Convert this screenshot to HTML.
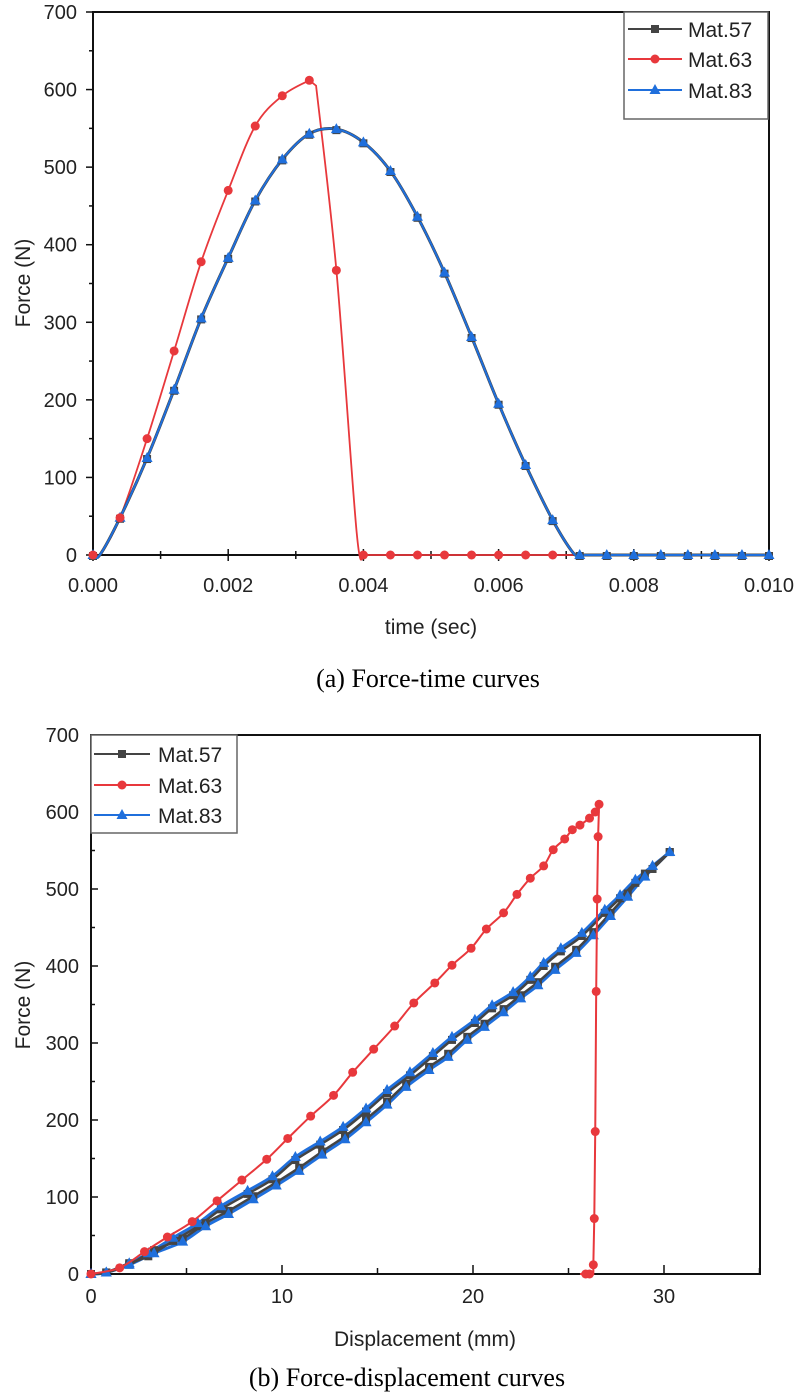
<!DOCTYPE html>
<html><head><meta charset="utf-8"><style>
html,body{margin:0;padding:0;background:#fff;}
svg{display:block;}
text{font-family:"Liberation Sans",Arial,sans-serif;fill:#222;}
.cap{font-family:"Liberation Serif","Times New Roman",serif;fill:#000;}
</style></head><body>
<svg id="s" width="800" height="1397" xmlns="http://www.w3.org/2000/svg"></svg>
<script>
const S=document.getElementById('s');let h='';
function cr(p){
 if(p.length<3){return 'M'+p.map(q=>q.join(',')).join('L');}
 let d='M'+p[0][0]+','+p[0][1];
 for(let i=0;i<p.length-1;i++){const p0=p[i-1]||p[i],p1=p[i],p2=p[i+1],p3=p[i+2]||p2;
  const c1=[p1[0]+(p2[0]-p0[0])/6,p1[1]+(p2[1]-p0[1])/6],c2=[p2[0]-(p3[0]-p1[0])/6,p2[1]-(p3[1]-p1[1])/6];
  d+=`C${c1[0].toFixed(1)},${c1[1].toFixed(1)} ${c2[0].toFixed(1)},${c2[1].toFixed(1)} ${p2[0].toFixed(1)},${p2[1].toFixed(1)}`;}
 return d;}
function mk(t,x,y,c){
 if(t=='s')return `<rect x="${x-4}" y="${y-4}" width="8" height="8" fill="${c}"/>`;
 if(t=='c')return `<circle cx="${x}" cy="${y}" r="4.5" fill="${c}"/>`;
 return `<polygon points="${x},${y-6} ${x+5.5},${y+4} ${x-5.5},${y+4}" fill="${c}"/>`;}
const BK='#444',RD='#e8383c',BL='#1f6fdc';
{const L=93,R=769,T=12,B=555;const X=t=>L+(R-L)*t/0.01,Y=f=>B-(B-T)*f/700;
 h+=`<rect x="${L}" y="${T}" width="${R-L}" height="${B-T}" fill="none" stroke="#111" stroke-width="2"/>`;
 for(let i=0;i<=14;i++){const y=Y(i*50),mj=i%2==0;h+=`<line x1="${L-(mj?7:4)}" x2="${L}" y1="${y}" y2="${y}" stroke="#111" stroke-width="1.5"/>`;
  if(mj)h+=`<text x="${L-16}" y="${y+7}" font-size="20" text-anchor="end">${i*50}</text>`;}
 for(let i=0;i<=10;i++){const x=X(i*0.001),mj=i%2==0;h+=`<line x1="${x}" x2="${x}" y1="${B-(mj?6:4)}" y2="${B+(mj?6:4)}" stroke="#111" stroke-width="1.5"/>`;
  if(mj)h+=`<text x="${x}" y="${592}" font-size="20" text-anchor="middle">${(i*0.001).toFixed(3)}</text>`;}
 h+=`<text x="431" y="634" font-size="21" text-anchor="middle">time (sec)</text>`;
 h+=`<text transform="translate(30,283) rotate(-90)" font-size="21" text-anchor="middle">Force (N)</text>`;
 const b=[[0,0],[0.0001,0],[0.0004,48],[0.0008,125],[0.0012,213],[0.0016,305],[0.002,383],[0.0024,457],[0.0028,510],[0.0032,543],[0.0036,549],[0.004,532],[0.0044,495],[0.0048,436],[0.0052,364],[0.0056,281],[0.006,195],[0.0064,116],[0.0068,45],[0.0071,3],[0.0072,0]];
 const r=[[0,0],[0.0001,0],[0.0004,48],[0.0008,150],[0.0012,263],[0.0016,378],[0.002,470],[0.0024,553],[0.0028,592],[0.0032,612],[0.0033,605],[0.0036,367],[0.0039,30],[0.004,0]];
 const rp=r.map(q=>[X(q[0]),Y(q[1])]);
 h+=`<path d="${cr(rp.slice(0,10))} L${X(0.0033)},${Y(605)} ${cr(rp.slice(10)).replace('M','L')} L${X(0.0072)},${Y(0)}" fill="none" stroke="${RD}" stroke-width="1.8"/>`;
 const bp=b.map(q=>[X(q[0]),Y(q[1])]);
 h+=`<path d="${cr(bp)} L${X(0.01)},${Y(0)}" fill="none" stroke="${BK}" stroke-width="3"/>`;
 h+=`<path d="${cr(bp)} L${X(0.01)},${Y(0)}" fill="none" stroke="${BL}" stroke-width="2"/>`;
 for(let i=0;i<=25;i++){const t=i*0.0004;
  const ff=b.find(q=>Math.abs(q[0]-t)<1e-7);const f=ff?ff[1]:0;
  h+=mk('s',X(t),Y(f)+1,BK);h+=mk('t',X(t),Y(f),BL);}
 for(let i=0;i<=17;i++){const t=i*0.0004;const ff=r.find(q=>Math.abs(q[0]-t)<1e-7);const f=ff?ff[1]:0;h+=mk('c',X(t),Y(f),RD);}
 h+=`<rect x="624" y="12" width="144" height="107" fill="#fff" stroke="#666" stroke-width="1.5"/>`;
 [[BK,'s','Mat.57',29],[RD,'c','Mat.63',59],[BL,'t','Mat.83',90]].forEach(e=>{h+=`<line x1="628" x2="682" y1="${e[3]}" y2="${e[3]}" stroke="${e[0]}" stroke-width="2"/>`+mk(e[1],655,e[3],e[0])+`<text x="688" y="${e[3]+8}" font-size="21">${e[2]}</text>`;});
 h+=`<text class="cap" x="428" y="687" font-size="26" text-anchor="middle">(a) Force-time curves</text>`;
}
{const L=91,R=760,T=735,B=1274;const X=d=>L+191*d/10,Y=f=>B-77*f/100;
 h+=`<rect x="${L}" y="${T}" width="${R-L}" height="${B-T}" fill="none" stroke="#111" stroke-width="2"/>`;
 for(let i=0;i<=14;i++){const y=Y(i*50),mj=i%2==0;h+=`<line x1="${L}" x2="${L+(mj?7:4)}" y1="${y}" y2="${y}" stroke="#111" stroke-width="1.5"/>`;
  if(mj)h+=`<text x="${L-12}" y="${y+7}" font-size="20" text-anchor="end">${i*50}</text>`;}
 for(let i=0;i<=7;i++){const x=X(i*5),mj=i%2==0;h+=`<line x1="${x}" x2="${x}" y1="${B-(mj?9:6)}" y2="${B}" stroke="#111" stroke-width="1.5"/>`;
  if(mj)h+=`<text x="${x}" y="1303" font-size="20" text-anchor="middle">${i*5}</text>`;}
 h+=`<text x="425" y="1346" font-size="21" text-anchor="middle">Displacement (mm)</text>`;
 h+=`<text transform="translate(30,1005) rotate(-90)" font-size="21" text-anchor="middle">Force (N)</text>`;
 const red=[[0,0],[1.5,8],[2.8,29],[4.0,48],[5.3,68],[6.6,95],[7.9,122],[9.2,149],[10.3,176],[11.5,205],[12.7,232],[13.7,262],[14.8,292],[15.9,322],[16.9,352],[18.0,378],[18.9,401],[19.9,423],[20.7,448],[21.6,469],[22.3,493],[23.0,514],[23.7,530],[24.2,551],[24.8,565],[25.2,577],[25.6,583],[26.1,592],[26.4,600],[26.6,610]];
 const up=[[0,0],[0.8,2],[2,14],[3,27],[4.3,47],[5.6,66],[6.8,88],[8.2,108],[9.5,127],[10.7,152],[12,172],[13.2,191],[14.4,215],[15.5,239],[16.7,262],[17.9,287],[18.9,308],[20.1,330],[21.0,349],[22.1,366],[23.0,386],[23.7,404],[24.6,423],[25.7,443],[26.9,473],[27.7,492],[28.5,512],[29.4,530],[30.3,548]];
 const lo=[[0,0],[0.8,2],[2,12],[3.3,27],[4.8,42],[6,62],[7.2,78],[8.5,97],[9.7,115],[10.9,134],[12.1,155],[13.3,175],[14.4,197],[15.5,220],[16.5,243],[17.7,265],[18.7,282],[19.7,304],[20.6,321],[21.6,340],[22.5,358],[23.4,375],[24.3,395],[25.4,417],[26.3,440],[27.2,465],[28.1,490],[29.0,516],[30.3,548]];
 const P=a=>a.map(q=>[X(q[0]),Y(q[1])]);
 const shift=(a,d)=>a.map((q,i)=>[q[0],i<3||i==a.length-1?q[1]:q[1]+d]);
 h+=`<path d="${cr(P(up))}" fill="none" stroke="${BL}" stroke-width="3"/>`;
 h+=`<path d="${cr(P(lo))}" fill="none" stroke="${BL}" stroke-width="3"/>`;
 h+=`<path d="${cr(P(shift(up,-4)))}" fill="none" stroke="${BK}" stroke-width="2.5"/>`;
 h+=`<path d="${cr(P(shift(lo,4)))}" fill="none" stroke="${BK}" stroke-width="2.5"/>`;
 shift(up,-4).forEach(q=>h+=mk('s',X(q[0]),Y(q[1]),BK));shift(lo,4).forEach(q=>h+=mk('s',X(q[0]),Y(q[1]),BK));
 up.forEach(q=>h+=mk('t',X(q[0]),Y(q[1]),BL));lo.forEach(q=>h+=mk('t',X(q[0]),Y(q[1]),BL));
 h+=`<path d="${cr(P(red))} L${X(26.55)},${Y(568)} L${X(26.5)},${Y(487)} L${X(26.45)},${Y(367)} L${X(26.4)},${Y(185)} L${X(26.35)},${Y(72)} L${X(26.3)},${Y(12)} L${X(26.3)},${Y(0)} L${X(25.6)},${Y(0)}" fill="none" stroke="${RD}" stroke-width="2"/>`;
 red.forEach(q=>h+=mk('c',X(q[0]),Y(q[1]),RD));
 [[26.55,568],[26.5,487],[26.45,367],[26.4,185],[26.35,72],[26.3,12],[26.1,0],[25.9,0]].forEach(q=>h+=mk('c',X(q[0]),Y(q[1]),RD));
 h+=`<rect x="91" y="735" width="146" height="98" fill="#fff" stroke="#666" stroke-width="1.5"/>`;
 [[BK,'s','Mat.57',754],[RD,'c','Mat.63',785],[BL,'t','Mat.83',815]].forEach(e=>{h+=`<line x1="94" x2="150" y1="${e[3]}" y2="${e[3]}" stroke="${e[0]}" stroke-width="2"/>`+mk(e[1],122,e[3],e[0])+`<text x="158" y="${e[3]+8}" font-size="21">${e[2]}</text>`;});
 h+=`<text class="cap" x="407" y="1386" font-size="26" text-anchor="middle">(b) Force-displacement curves</text>`;
}
S.innerHTML=h;
</script>
</body></html>
